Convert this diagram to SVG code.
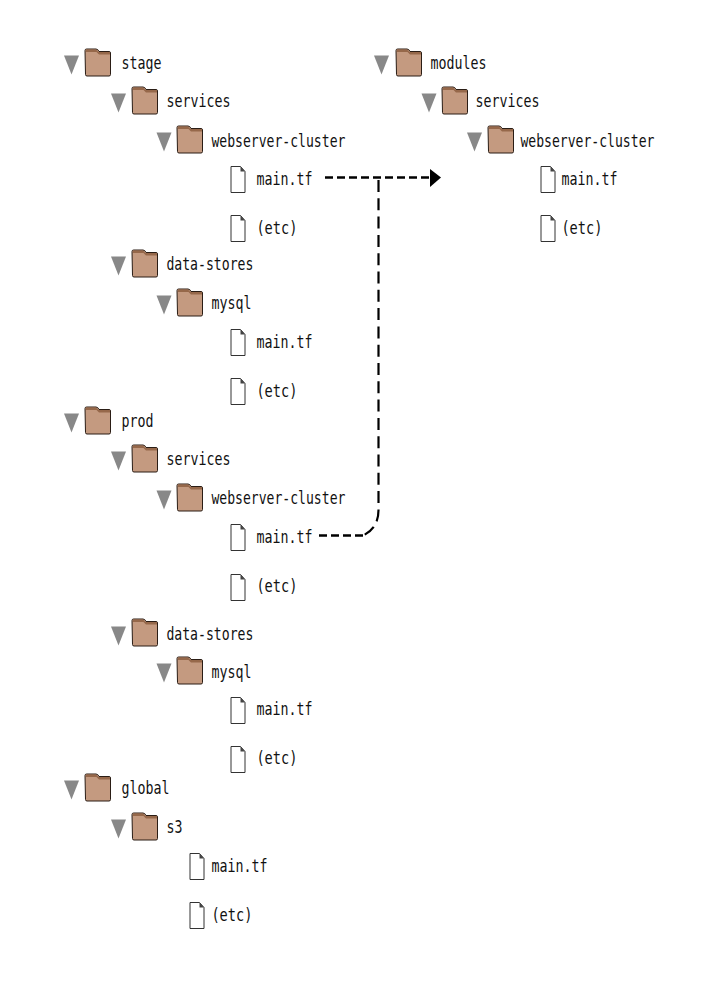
<svg xmlns="http://www.w3.org/2000/svg" width="727" height="995" viewBox="0 0 727 995">
<style>
text{font-family:"DejaVu Sans Mono","Liberation Mono",monospace;font-size:18.500px;fill:#111;transform:translate(.4px,.7px)}
.conn{fill:none;stroke:#000;stroke-width:2.400}
.h{stroke-dasharray:8 4}
.v{stroke-dasharray:12 6.300;stroke-width:2.200}
</style>
<defs>
<symbol id="folder" overflow="visible">
<path d="M0 -11.500Q0 -13 1.500 -13H11Q13 -13 14 -10.500H24Q25.500 -10.500 25.500 -9V12.500Q25.500 14 24 14H2Q0.500 14 0.500 12.500Z" fill="#c49a80" stroke="#2a1d15" stroke-width="1"/>
<path d="M1 -10H11.500L14 -7.500H25V-10H13.500L11 -12.500H1Z" fill="#96684a"/>
</symbol>
<symbol id="tri" overflow="visible"><path d="M-7.500 -6.500H7.500L0 12.500Z" fill="#888"/></symbol>
<symbol id="file" overflow="visible"><path d="M0 -12.500H9.500L14 -7.500V13.500H0Z" fill="#fff" stroke="#333" stroke-width="1"/><path d="M9.500 -12.500V-7.500H14Z" fill="#444"/></symbol>
</defs>
<g id="connectors">
<path class="conn h" d="M325 177.500H432"/>
<path class="conn h" d="M319 535.500H363"/>
<path class="conn v" d="M378.500 180V510Q378.500 528 363 535.500"/>
<path d="M430 169L441 177.500L430 187Z" fill="#000"/>
</g>
<g id="stage"><use href="#tri" x="71.500" y="62"/><use href="#folder" x="85" y="62"/><text x="121" y="68" textLength="40" lengthAdjust="spacingAndGlyphs">stage</text></g>
<g id="stage-services"><use href="#tri" x="118.500" y="100"/><use href="#folder" x="132" y="100"/><text x="166" y="106" textLength="64" lengthAdjust="spacingAndGlyphs">services</text></g>
<g id="stage-webserver"><use href="#tri" x="164" y="139"/><use href="#folder" x="177" y="139"/><text x="211" y="146" textLength="134" lengthAdjust="spacingAndGlyphs">webserver-cluster</text></g>
<g id="stage-web-main"><use href="#file" x="231" y="179"/><text x="256" y="184" textLength="56" lengthAdjust="spacingAndGlyphs">main.tf</text></g>
<g id="stage-web-etc"><use href="#file" x="231" y="228"/><text x="256" y="233" textLength="41" lengthAdjust="spacingAndGlyphs">(etc)</text></g>
<g id="stage-data"><use href="#tri" x="118.500" y="263"/><use href="#folder" x="132" y="263"/><text x="166" y="269" textLength="87" lengthAdjust="spacingAndGlyphs">data-stores</text></g>
<g id="stage-mysql"><use href="#tri" x="164" y="302"/><use href="#folder" x="177" y="302"/><text x="211" y="308" textLength="40" lengthAdjust="spacingAndGlyphs">mysql</text></g>
<g id="stage-mysql-main"><use href="#file" x="231" y="342"/><text x="256" y="347" textLength="56" lengthAdjust="spacingAndGlyphs">main.tf</text></g>
<g id="stage-mysql-etc"><use href="#file" x="231" y="391"/><text x="256" y="396" textLength="41" lengthAdjust="spacingAndGlyphs">(etc)</text></g>
<g id="prod"><use href="#tri" x="71.500" y="420"/><use href="#folder" x="85" y="420"/><text x="121" y="426" textLength="32" lengthAdjust="spacingAndGlyphs">prod</text></g>
<g id="prod-services"><use href="#tri" x="118.500" y="458"/><use href="#folder" x="132" y="458"/><text x="166" y="464" textLength="64" lengthAdjust="spacingAndGlyphs">services</text></g>
<g id="prod-webserver"><use href="#tri" x="164" y="497"/><use href="#folder" x="177" y="497"/><text x="211" y="503" textLength="134" lengthAdjust="spacingAndGlyphs">webserver-cluster</text></g>
<g id="prod-web-main"><use href="#file" x="231" y="537"/><text x="256" y="542" textLength="56" lengthAdjust="spacingAndGlyphs">main.tf</text></g>
<g id="prod-web-etc"><use href="#file" x="231" y="587"/><text x="256" y="591" textLength="41" lengthAdjust="spacingAndGlyphs">(etc)</text></g>
<g id="prod-data"><use href="#tri" x="118.500" y="633"/><use href="#folder" x="132" y="632"/><text x="166" y="639" textLength="87" lengthAdjust="spacingAndGlyphs">data-stores</text></g>
<g id="prod-mysql"><use href="#tri" x="164" y="670"/><use href="#folder" x="177" y="670"/><text x="211" y="677" textLength="40" lengthAdjust="spacingAndGlyphs">mysql</text></g>
<g id="prod-mysql-main"><use href="#file" x="231" y="710"/><text x="256" y="714" textLength="56" lengthAdjust="spacingAndGlyphs">main.tf</text></g>
<g id="prod-mysql-etc"><use href="#file" x="231" y="759"/><text x="256" y="763" textLength="41" lengthAdjust="spacingAndGlyphs">(etc)</text></g>
<g id="global"><use href="#tri" x="71.500" y="787"/><use href="#folder" x="85" y="787"/><text x="121" y="793" textLength="48" lengthAdjust="spacingAndGlyphs">global</text></g>
<g id="global-s3"><use href="#tri" x="118.500" y="826"/><use href="#folder" x="132" y="826"/><text x="166" y="832" textLength="16" lengthAdjust="spacingAndGlyphs">s3</text></g>
<g id="global-main"><use href="#file" x="190" y="866"/><text x="211" y="871" textLength="56" lengthAdjust="spacingAndGlyphs">main.tf</text></g>
<g id="global-etc"><use href="#file" x="190" y="915"/><text x="211" y="920" textLength="41" lengthAdjust="spacingAndGlyphs">(etc)</text></g>
<g id="modules"><use href="#tri" x="381.500" y="62"/><use href="#folder" x="396" y="62"/><text x="430" y="68" textLength="56" lengthAdjust="spacingAndGlyphs">modules</text></g>
<g id="modules-services"><use href="#tri" x="429" y="100"/><use href="#folder" x="442" y="100"/><text x="475" y="106" textLength="64" lengthAdjust="spacingAndGlyphs">services</text></g>
<g id="modules-webserver"><use href="#tri" x="474.500" y="139"/><use href="#folder" x="488" y="139"/><text x="520" y="146" textLength="134" lengthAdjust="spacingAndGlyphs">webserver-cluster</text></g>
<g id="modules-main"><use href="#file" x="541" y="179"/><text x="561" y="184" textLength="56" lengthAdjust="spacingAndGlyphs">main.tf</text></g>
<g id="modules-etc"><use href="#file" x="541" y="228"/><text x="561" y="233" textLength="41" lengthAdjust="spacingAndGlyphs">(etc)</text></g>
</svg>
